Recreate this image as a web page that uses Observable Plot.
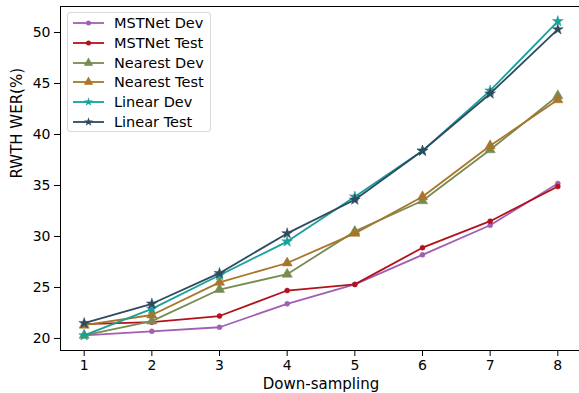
<!DOCTYPE html>
<html>
<head>
<meta charset="utf-8">
<script src="https://cdn.jsdelivr.net/npm/d3@7"></script>
<script src="https://cdn.jsdelivr.net/npm/@observablehq/plot@0.6"></script>
<style>
  html, body { margin: 0; padding: 0; background: #fff; }
  #wrap { position: relative; width: 579px; height: 393px; overflow: hidden; font-family: "DejaVu Sans", sans-serif; }
  #legend { position: absolute; left: 67px; top: 12px; width: 144px; height: 120px; border: 1px solid #d8d8d8; border-radius: 3px; background: rgba(255,255,255,0.85); box-sizing: border-box; }
  .row { position: absolute; left: 5px; height: 20px; display: flex; align-items: center; font-size: 14.5px; color: #000; white-space: nowrap; }
  .row svg { margin-right: 10px; }
</style>
</head>
<body>
<div id="wrap"><div id="chart"></div><div id="legend"></div></div>
<script>
const downsampling = [1, 2, 3, 4, 5, 6, 7, 8];
const seriesNames = ["MSTNet Dev", "MSTNet Test", "Nearest Dev", "Nearest Test", "Linear Dev", "Linear Test"];
const mstnetDev   = [20.3, 20.7, 21.1, 23.4, 25.3, 28.2, 31.1, 35.2];
const mstnetTest  = [21.4, 21.6, 22.2, 24.7, 25.3, 28.9, 31.5, 34.9];
const nearestDev  = [20.3, 21.7, 24.8, 26.3, 30.5, 33.5, 38.5, 43.8];
const nearestTest = [21.3, 22.3, 25.5, 27.4, 30.3, 33.9, 38.9, 43.4];
const linearDev   = [20.3, 22.9, 26.2, 29.5, 33.9, 38.4, 44.3, 51.1];
const linearTest  = [21.5, 23.4, 26.4, 30.3, 33.6, 38.4, 44.0, 50.3];
const yTicks = [20, 25, 30, 35, 40, 45, 50];
const xTicks = [1, 2, 3, 4, 5, 6, 7, 8];

const colors  = ["#a15fb3", "#b3121c", "#778b52", "#a8752b", "#18a09a", "#2f4a5f"];
const symbols = ["circle", "circle", "triangle", "triangle", "star", "star"];
const sizes   = [2.5, 2.5, 3.8, 3.8, 3.4, 3.4];
const allValues = [mstnetDev, mstnetTest, nearestDev, nearestTest, linearDev, linearTest];

const rows = [];
seriesNames.forEach((name, i) => {
  downsampling.forEach((x, j) => rows.push({series: name, idx: i, x, y: allValues[i][j]}));
});

const marks = [Plot.frame({stroke: "#000", strokeWidth: 1})];
seriesNames.forEach((name, i) => {
  const d = rows.filter(r => r.idx === i);
  marks.push(Plot.line(d, {x: "x", y: "y", stroke: colors[i], strokeWidth: 1.8}));
  marks.push(Plot.dot(d, {x: "x", y: "y", fill: colors[i], stroke: colors[i], strokeWidth: 0.5, symbol: symbols[i], r: sizes[i]}));
});
marks.push(Plot.axisY(yTicks, {tickSize: 6, tickPadding: 4, fontSize: 14, label: null, stroke: "#000"}));
marks.push(Plot.axisX(xTicks, {tickSize: 6, tickPadding: 4, fontSize: 14, label: null, stroke: "#000"}));
marks.push(Plot.text(["RWTH WER(%)"], {frameAnchor: "left", dx: -43, rotate: -90, fontSize: 15, fill: "#000"}));
marks.push(Plot.text(["Down-sampling"], {x: [4.5], frameAnchor: "bottom", dy: 38, fontSize: 15, fill: "#000"}));

const chart = Plot.plot({
  width: 579,
  height: 393,
  marginLeft: 60,
  marginRight: -2,
  marginTop: 6,
  marginBottom: 43,
  style: {fontFamily: "DejaVu Sans, sans-serif", background: "#fff", color: "#000", overflow: "hidden"},
  x: {domain: [0.65, 8.35]},
  y: {domain: [18.82, 52.55]},
  marks
});
document.getElementById("chart").appendChild(chart);

// legend
const legend = document.getElementById("legend");
const symGen = {circle: d3.symbolCircle, triangle: d3.symbolTriangle, star: d3.symbolStar};
seriesNames.forEach((name, i) => {
  const row = document.createElement("div");
  row.className = "row";
  row.style.top = (i * 19.8) + "px";
  const r = sizes[i];
  const area = symbols[i] === "circle" ? Math.PI * r * r : (symbols[i] === "triangle" ? r * r * 2.6 : r * r * 2.2);
  const path = d3.symbol(symGen[symbols[i]], area)();
  row.innerHTML = `<svg width="31" height="14"><line x1="0" x2="31" y1="7" y2="7" stroke="${colors[i]}" stroke-width="1.8"/><path transform="translate(15.5,7)" d="${path}" fill="${colors[i]}"/></svg><span>${name}</span>`;
  legend.appendChild(row);
});
</script>
</body>
</html>
